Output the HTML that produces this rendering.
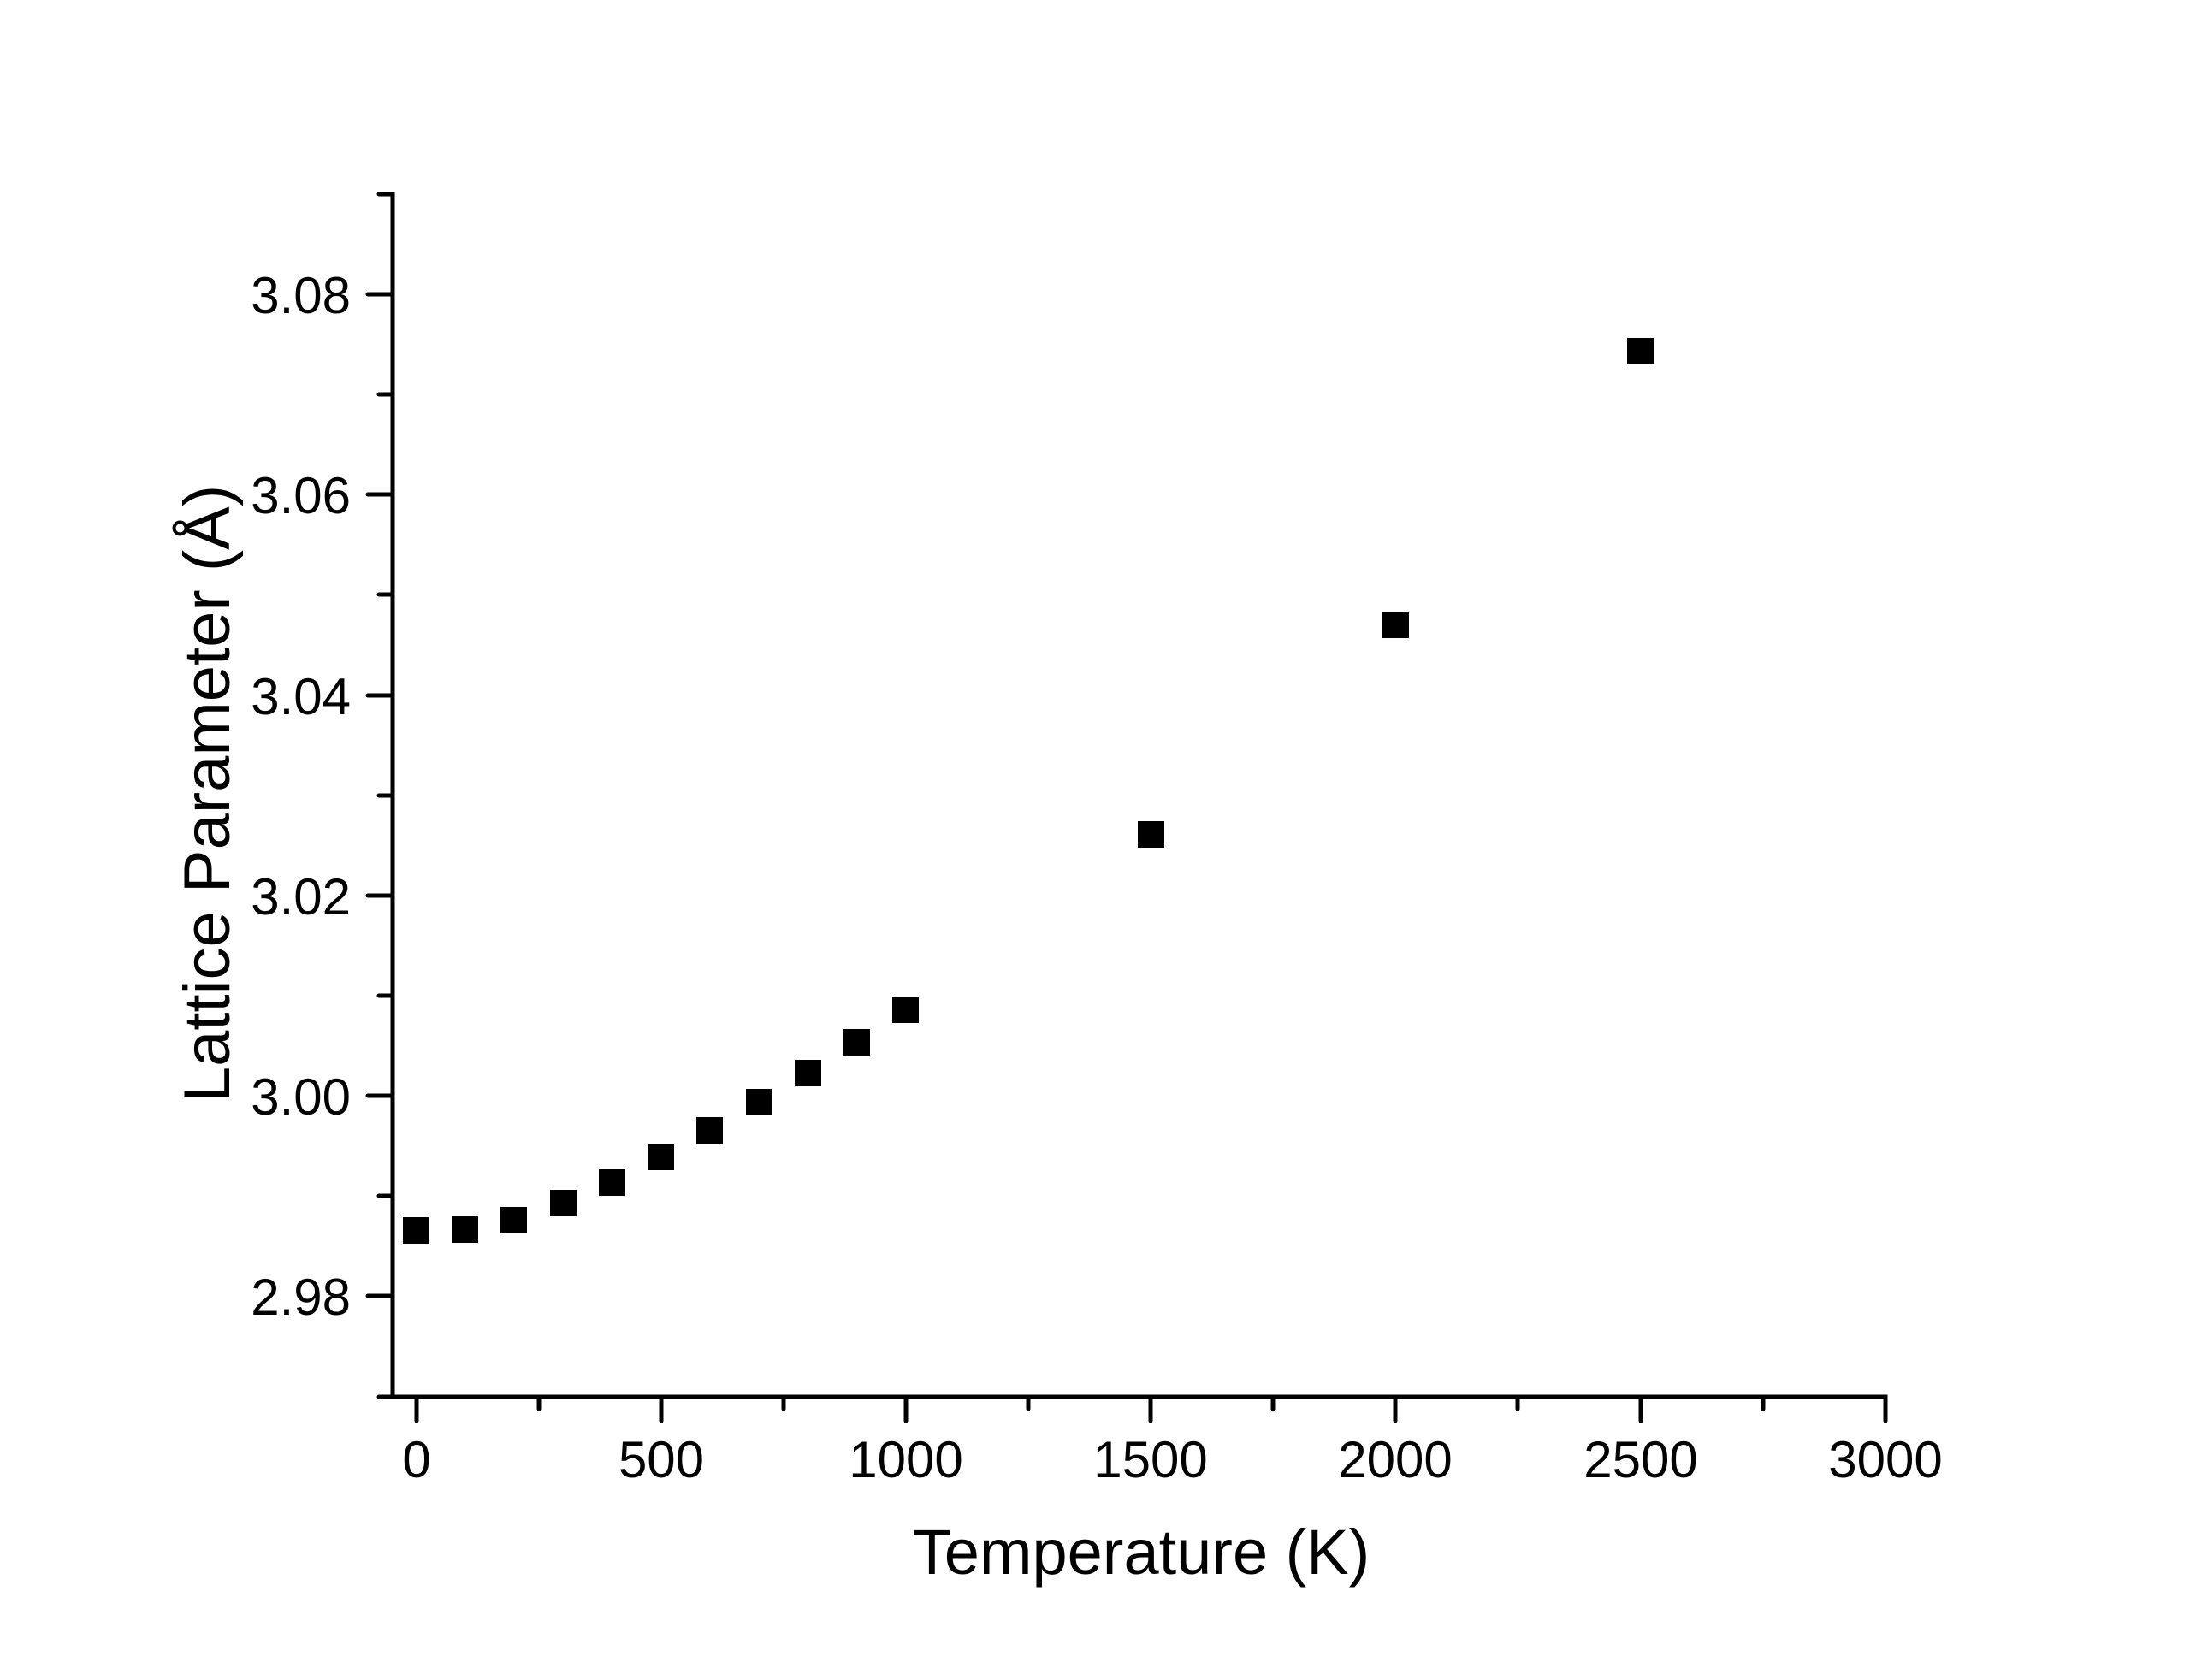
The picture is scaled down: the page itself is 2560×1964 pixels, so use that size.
<!DOCTYPE html>
<html><head><meta charset="utf-8"><style>html,body{margin:0;padding:0;background:#fff}</style></head>
<body>
<svg width="2560" height="1959" viewBox="0 0 2560 1959" xmlns="http://www.w3.org/2000/svg" font-family="Liberation Sans, Arial, sans-serif">
<rect width="2560" height="1959" fill="#fff"/>
<g stroke="#000" stroke-width="5" stroke-linecap="round" fill="none">
<path d="M443 227 H459 V1633 H2204 V1661"/>
<path d="M443 1633 H459"/>
</g>
<g stroke="#000" stroke-width="5" stroke-linecap="round">
<line x1="487" y1="1633" x2="487" y2="1661"/>
<line x1="630" y1="1633" x2="630" y2="1647"/>
<line x1="773" y1="1633" x2="773" y2="1661"/>
<line x1="916" y1="1633" x2="916" y2="1647"/>
<line x1="1059" y1="1633" x2="1059" y2="1661"/>
<line x1="1202" y1="1633" x2="1202" y2="1647"/>
<line x1="1345" y1="1633" x2="1345" y2="1661"/>
<line x1="1488" y1="1633" x2="1488" y2="1647"/>
<line x1="1631" y1="1633" x2="1631" y2="1661"/>
<line x1="1774" y1="1633" x2="1774" y2="1647"/>
<line x1="1918" y1="1633" x2="1918" y2="1661"/>
<line x1="2061" y1="1633" x2="2061" y2="1647"/>
<line x1="430" y1="344" x2="459" y2="344"/>
<line x1="443" y1="461" x2="459" y2="461"/>
<line x1="430" y1="578" x2="459" y2="578"/>
<line x1="443" y1="695" x2="459" y2="695"/>
<line x1="430" y1="813" x2="459" y2="813"/>
<line x1="443" y1="930" x2="459" y2="930"/>
<line x1="430" y1="1047" x2="459" y2="1047"/>
<line x1="443" y1="1164" x2="459" y2="1164"/>
<line x1="430" y1="1281" x2="459" y2="1281"/>
<line x1="443" y1="1398" x2="459" y2="1398"/>
<line x1="430" y1="1515" x2="459" y2="1515"/>
</g>
<g font-size="60" fill="#000" text-anchor="middle">
<text x="487" y="1727">0</text>
<text x="773" y="1727">500</text>
<text x="1059" y="1727">1000</text>
<text x="1345" y="1727">1500</text>
<text x="1631" y="1727">2000</text>
<text x="1918" y="1727">2500</text>
<text x="2204" y="1727">3000</text>
</g>
<g font-size="60" fill="#000" text-anchor="end">
<text x="410" y="366">3.08</text>
<text x="410" y="600">3.06</text>
<text x="410" y="835">3.04</text>
<text x="410" y="1069">3.02</text>
<text x="410" y="1303">3.00</text>
<text x="410" y="1537">2.98</text>
</g>
<text x="1334" y="1840" font-size="74" text-anchor="middle">Temperature (K)</text>
<text transform="translate(268,928) rotate(-90)" font-size="76" text-anchor="middle">Lattice Parameter (Å)</text>
<g fill="#000">
<rect x="471" y="1423" width="31" height="31"/>
<rect x="528" y="1422" width="31" height="31"/>
<rect x="585" y="1411" width="31" height="31"/>
<rect x="643" y="1391" width="31" height="31"/>
<rect x="700" y="1367" width="31" height="31"/>
<rect x="757" y="1337" width="31" height="31"/>
<rect x="814" y="1306" width="31" height="31"/>
<rect x="872" y="1273" width="31" height="31"/>
<rect x="929" y="1239" width="31" height="31"/>
<rect x="986" y="1203" width="31" height="31"/>
<rect x="1043" y="1165" width="31" height="31"/>
<rect x="1330" y="960" width="31" height="31"/>
<rect x="1616" y="715" width="31" height="31"/>
<rect x="1902" y="395" width="31" height="31"/>
</g>
</svg>
</body></html>
